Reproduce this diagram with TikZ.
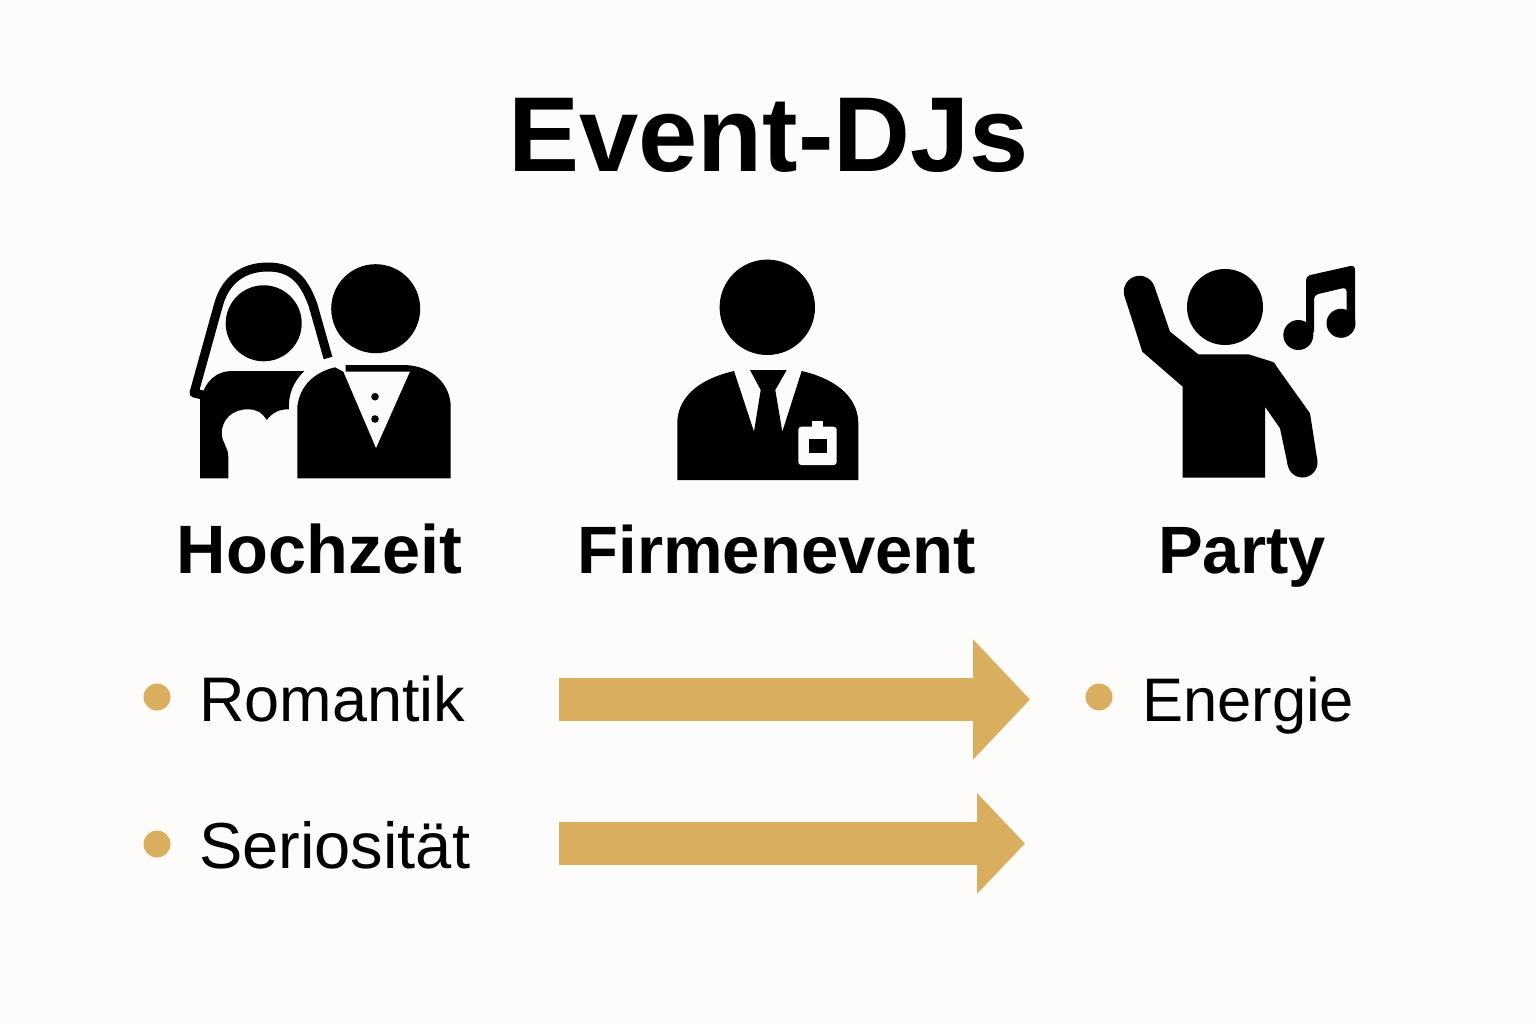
\documentclass[tikz,border=0pt]{standalone}
\usepackage{fontspec}
\setmainfont{Liberation Sans}
\usetikzlibrary{arrows.meta}
\definecolor{paper}{HTML}{FDFCFA}
\definecolor{gold}{HTML}{D9AF5F}
\tikzset{
  title/.style={inner sep=0pt, anchor=base, font=\fontsize{106.5}{107}\selectfont\bfseries},
  heading/.style={inner sep=0pt, anchor=base, font=\fontsize{67}{67}\selectfont\bfseries},
  item/.style={inner sep=0pt, anchor=base west, font=\fontsize{63}{63}\selectfont},
  dot/.style={circle, fill=gold, inner sep=0pt, minimum size=27pt},
  goldarrow/.style={draw=gold, line width=43pt, -{Triangle[length=57pt, width=117pt]}}
}
\begin{document}
\begin{tikzpicture}[x=1pt, y=-1pt]
\useasboundingbox (0,0) rectangle (1536,1024);
\fill[paper] (0,0) rectangle (1536,1024);
\node[title] (eventdjs) at (768.5,172) {Event-DJs};
\fill (263.7,323.3) circle (38);
\fill (375.7,308.7) circle (44.5);
\draw[line width=9pt, line join=round] (328,358) -- (313,305) .. controls (304,280) and (292,267) .. (268,267) .. controls (243,267) and (226,280) .. (219,303) -- (194,393) -- (205,395.5);
\fill (200,478.3) -- (200,400) .. controls (206,380) and (216,371) .. (233.3,371) -- (304.3,371) .. controls (293,382) and (288,395) .. (289,409.3) .. controls (279,409) and (272,413) .. (266.7,420) .. controls (262,412) and (255,409) .. (248.3,409.3) .. controls (232,409) and (221.7,420) .. (221.7,433.3) .. controls (222,443) and (228.3,447) .. (228.3,456.7) -- (228.3,478.3) -- cycle;
\fill (297.3,478.3) -- (297.3,406.7) .. controls (300,385) and (315,372) .. (335,367.3) -- (343.3,371.7) -- (376,448.3) -- (410,371.7) -- (345.7,371.7) -- (345.7,365) -- (405,365) .. controls (433,366) and (450.7,385) .. (450.7,407) -- (450.7,478.3) -- cycle;
\fill (375,396.7) circle (3.8) (375,419) circle (3.8);
\fill (767.3,307.3) circle (47.7);
\fill (677.3,480) -- (677.3,423.3) .. controls (677.3,400) and (695,380) .. (734,371) -- (754,431.7) -- (760.7,390) -- (750,370) -- (786.7,370) -- (775.3,390) -- (782.3,431.7) -- (801.7,371) .. controls (840,380) and (858.3,400) .. (858.3,423.3) -- (858.3,480) -- cycle;
\fill[paper, rounded corners=3pt] (798.3,426.7) rectangle (836.7,465);
\fill[paper] (811.7,421) rectangle (823.3,428);
\fill (809,439) rectangle (826.7,453.3);
\fill (1225,307) circle (38);
\fill (1139.5,291.5) circle (15.7) (1302.5,462.5) circle (15);
\fill (1124.6,296.5) -- (1154.4,286.5) -- (1170,331.7) -- (1198.3,354.3) -- (1248.3,354.3) -- (1270,361) .. controls (1274,362) and (1276,364) .. (1276.7,366.7) -- (1310,413.3) -- (1317.3,460.2) -- (1287.7,464.8) -- (1280,428.3) -- (1265,406.7) -- (1265,477.7) -- (1182.7,477.7) -- (1182.7,386.7) -- (1142.3,351.7) -- cycle;
\fill (1298.3,335) circle (15) (1341,323.3) circle (14.5);
\fill[rounded corners=4pt] (1306,335) -- (1306,276) -- (1355,265) -- (1355,325) -- (1346.7,325) -- (1346.7,287.3) -- (1314,295) -- (1314,335) -- cycle;
\node[heading, font=\fontsize{68.5}{69}\selectfont\bfseries] (hochzeit) at (319.5,573) {Hochzeit};
\node[heading] (firmenevent) at (777,573) {Firmenevent};
\node[heading] (party) at (1242,573) {Party};
\node[dot] (dotromantik) at (157,697) {};
\node[dot] (dotseriositaet) at (157,844) {};
\node[dot] (dotenergie) at (1099,697) {};
\node[item] (romantik) at (199,721) {Romantik};
\node[item, font=\fontsize{65}{65}\selectfont] (seriositaet) at (199,868) {Seriosität};
\node[item, font=\fontsize{61.5}{62}\selectfont] (energie) at (1142,721) {Energie};
\coordinate (topstart) at (559,699.5);
\coordinate (topend) at (1030,699.5);
\coordinate (lowstart) at (559,843.5);
\coordinate (lowend) at (1025,843.5);
\draw[goldarrow] (topstart) -- (topend);
\draw[goldarrow, -{Triangle[length=48pt, width=98pt]}] (lowstart) -- (lowend);
\end{tikzpicture}
\end{document}
